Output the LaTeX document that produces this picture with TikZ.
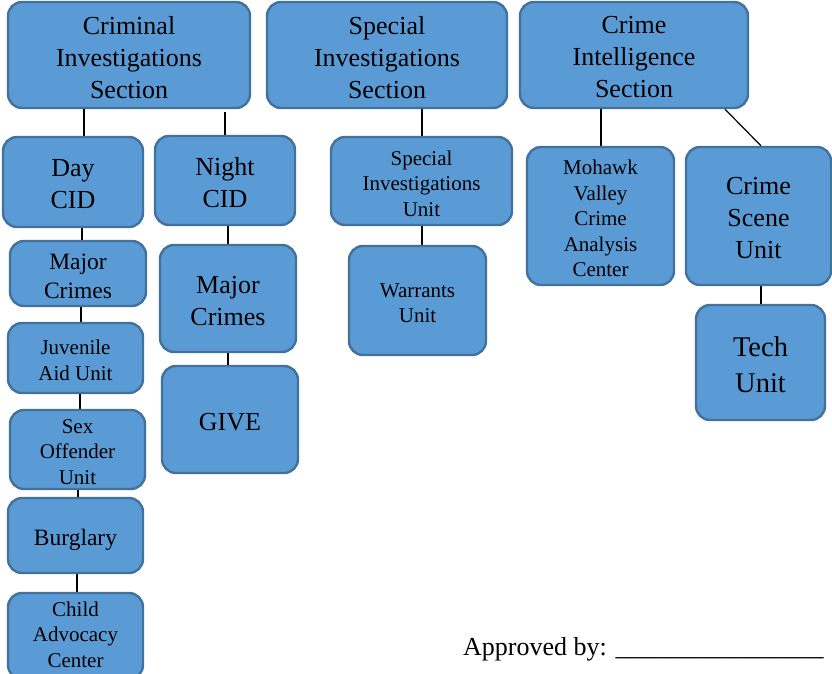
\documentclass[tikz,border=0pt]{standalone}
\usepackage{fontspec}
\setmainfont{Liberation Serif}
\definecolor{boxfill}{HTML}{5B9BD5}
\definecolor{bord}{HTML}{41719C}
\tikzset{
  box/.style={draw=bord, fill=boxfill, line width=2.4pt, rounded corners=14pt, inner sep=0pt},
  txt/.style={align=center, inner sep=0pt, text=black},
  conn/.style={draw=black, line width=1.2pt},
  fA/.style={font=\fontsize{26}{32}\selectfont},
  fB/.style={font=\fontsize{21}{25.5}\selectfont},
  fC/.style={font=\fontsize{23.5}{29}\selectfont},
  fD/.style={font=\fontsize{28.5}{36}\selectfont}
}
% [text shift], name, x, y, width, height, font style, text
\newcommand\orgbox[8][-2.5pt]{%
  \node[box,minimum width=#5,minimum height=#6] (#2) at (#3,#4) {};
  \node[txt,#7] (#2-t) at ([yshift=#1]#2.center) {#8};}
\begin{document}
\begin{tikzpicture}[x=1pt,y=-1pt]
\useasboundingbox (0,0) rectangle (832,673);
% top sections
\orgbox{cis}{129}{55}{242}{106}{fA}{Criminal\\Investigations\\Section}
\orgbox{sis}{387}{55}{240}{106}{fA}{Special\\Investigations\\Section}
\orgbox{cint}{634}{55}{228}{106}{fA}{Crime\\Intelligence\\Section}
% second row
\orgbox{day}{73}{182}{140}{90}{fA}{Day\\CID}
\orgbox{night}{225}{180.5}{140}{89}{fA}{Night\\CID}
\orgbox{siu}{421.5}{181}{181}{88}{fB}{Special\\Investigations\\Unit}
\orgbox{mv}{600.5}{216}{147}{138}{fB}{Mohawk\\Valley\\Crime\\Analysis\\Center}
\orgbox{csu}{758.5}{216}{145}{138}{fA}{Crime\\Scene\\Unit}
% day column
\orgbox{maj1}{78}{273.5}{136}{65}{fC}{Major\\Crimes}
\orgbox{juv}{75.5}{358}{135}{70}{fB}{Juvenile\\Aid Unit}
\orgbox{sex}{77.5}{449.5}{135}{79}{fB}{Sex\\Offender\\Unit}
\orgbox[-4.5pt]{burg}{75.5}{535.5}{135}{75}{fC}{Burglary}
\orgbox[1.5pt]{child}{75.5}{636}{135}{86}{fB}{Child\\Advocacy\\Center}
% night column
\orgbox{maj2}{228}{298.5}{136}{107}{fA}{Major\\Crimes}
\orgbox{give}{230}{419.5}{136}{107}{fA}{GIVE}
% others
\orgbox{warr}{417.5}{300.5}{137}{109}{fB}{Warrants\\Unit}
\orgbox{tech}{760.5}{362.5}{129}{115}{fD}{Tech\\Unit}
% approved
\node[anchor=west, inner sep=0pt, font=\fontsize{26}{32}\selectfont] (appr) at (463,649) {Approved by: \_\_\_\_\_\_\_\_\_\_\_\_\_\_\_\_};
% connectors
\draw[conn] ([xshift=-45pt]cis.south) -- ([xshift=11pt]day.north);
\draw[conn] ([xshift=96pt,yshift=-3pt]cis.south) -- ([xshift=0pt]night.north);
\draw[conn] ([xshift=35pt]sis.south) -- ([xshift=0.5pt]siu.north);
\draw[conn] ([xshift=-33pt]cint.south) -- ([xshift=0.5pt]mv.north);
\draw[conn] ([xshift=91pt]cint.south) -- ([xshift=2.5pt]csu.north);
\draw[conn] ([xshift=9pt]day.south) -- ([xshift=4pt]maj1.north);
\draw[conn] ([xshift=3pt]maj1.south) -- ([xshift=5.5pt]juv.north);
\draw[conn] ([xshift=4.5pt]juv.south) -- ([xshift=2.5pt]sex.north);
\draw[conn] ([xshift=0.5pt]sex.south) -- ([xshift=2.5pt]burg.north);
\draw[conn] ([xshift=1.5pt]burg.south) -- ([xshift=1.5pt]child.north);
\draw[conn] ([xshift=3pt]night.south) -- (maj2.north);
\draw[conn] (maj2.south) -- ([xshift=-2pt]give.north);
\draw[conn] ([xshift=0.5pt]siu.south) -- ([xshift=4.5pt]warr.north);
\draw[conn] ([xshift=2.5pt]csu.south) -- ([xshift=0.5pt]tech.north);
\end{tikzpicture}
\end{document}
